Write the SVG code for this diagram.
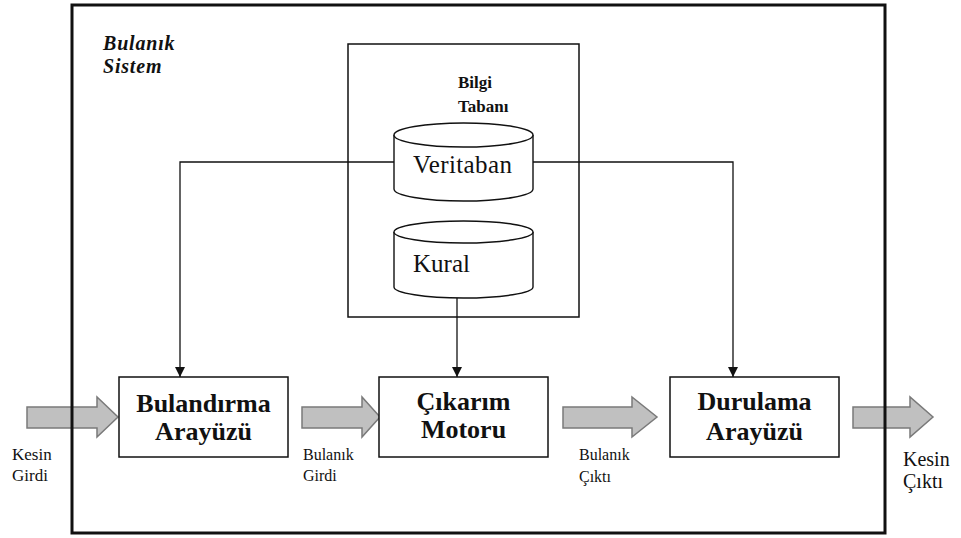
<svg xmlns="http://www.w3.org/2000/svg" width="961" height="538" viewBox="0 0 961 538">
  <defs>
    <style>
      text { font-family: "Liberation Serif", "Tinos", "DejaVu Serif", "Times New Roman", serif; fill: #111; }
      .node-title { font-size: 26px; font-weight: bold; text-anchor: middle; }
      .db-label { font-size: 25px; }
      .small { font-size: 16px; }
      .box { fill: #fff; stroke: #111; stroke-width: 1.5; }
      .frame { fill: none; stroke: #111; stroke-width: 3; }
      .kb { fill: none; stroke: #111; stroke-width: 1.5; }
      .cyl { fill: #fff; stroke: #111; stroke-width: 1.4; }
      .link { fill: none; stroke: #111; stroke-width: 1.3; }
      .flow { fill: #c0c0c0; stroke: #7a7a7a; stroke-width: 1.5; stroke-linejoin: miter; }
      .caption { font-size: 20px; font-weight: bold; font-style: italic; letter-spacing: 0.8px; }
    </style>
    <marker id="tip" viewBox="0 0 10 10" refX="10" refY="5" markerWidth="10" markerHeight="10" markerUnits="userSpaceOnUse" orient="auto">
      <path d="M0,0 L10,5 L0,10 Z" fill="#111"/>
    </marker>
  </defs>

  <rect width="961" height="538" fill="#fff"/>

  <!-- wide grey flow arrows -->
  <g id="flows">
    <polygon class="flow" points="27,407 97,407 97,397 118,417 97,437 97,428 27,428"/>
    <polygon class="flow" points="302,407 362,407 362,397 380,417 362,437 362,428 302,428"/>
    <polygon class="flow" points="563,407 632,407 632,397 657,417 632,437 632,428 563,428"/>
    <polygon class="flow" points="853,407 910,407 910,397 933,417 910,437 910,428 853,428"/>
  </g>

  <!-- system boundary -->
  <g id="fuzzy-system">
    <rect class="frame" x="72" y="5" width="813" height="528"/>
    <text class="caption" x="103" y="50">Bulanık</text>
    <text class="caption" x="103" y="73">Sistem</text>
  </g>

  <!-- knowledge base -->
  <g id="knowledge-base">
    <rect class="kb" x="348" y="44" width="231" height="273"/>
    <text x="458" y="88" style="font-size:17px;font-weight:bold">Bilgi</text>
    <text x="458" y="112" style="font-size:17px;font-weight:bold">Tabanı</text>
  </g>

  <!-- connectors -->
  <g id="connectors">
    <polyline class="link" points="394,162 180,162 180,377" marker-end="url(#tip)"/>
    <polyline class="link" points="533,162 733,162 733,377" marker-end="url(#tip)"/>
    <polyline class="link" points="457,298 457,377" marker-end="url(#tip)"/>
  </g>

  <g id="veritaban">
    <path class="cyl" d="M394,135 A69.5,12 0 0 1 533,135 L533,189 A69.5,12 0 0 1 394,189 Z"/>
    <path class="cyl" d="M394,135 A69.5,12 0 0 0 533,135" fill="none"/>
    <text class="db-label" x="413" y="173" letter-spacing="0.4">Veritaban</text>
  </g>

  <g id="kural">
    <path class="cyl" d="M394,232 A69.5,11 0 0 1 533,232 L533,287 A69.5,11 0 0 1 394,287 Z"/>
    <path class="cyl" d="M394,232 A69.5,11 0 0 0 533,232" fill="none"/>
    <text class="db-label" x="413" y="272">Kural</text>
  </g>

  <g id="bulandirma">
    <rect class="box" x="119" y="377" width="169" height="80"/>
    <text class="node-title" x="203.5" y="412">Bulandırma</text>
    <text class="node-title" x="203.5" y="440">Arayüzü</text>
  </g>

  <g id="cikarim">
    <rect class="box" x="379" y="377" width="169" height="80"/>
    <text class="node-title" x="463.5" y="410">Çıkarım</text>
    <text class="node-title" x="463.5" y="438">Motoru</text>
  </g>

  <g id="durulama">
    <rect class="box" x="670" y="377" width="169" height="80"/>
    <text class="node-title" x="754.5" y="410">Durulama</text>
    <text class="node-title" x="754.5" y="440">Arayüzü</text>
  </g>

  <!-- flow labels -->
  <g id="labels">
    <text x="12" y="460" style="font-size:17px">Kesin</text>
    <text x="12" y="481" style="font-size:17px">Girdi</text>
    <text class="small" x="303" y="460">Bulanık</text>
    <text class="small" x="303" y="481">Girdi</text>
    <text class="small" x="579" y="460">Bulanık</text>
    <text class="small" x="579" y="482">Çıktı</text>
    <text x="903" y="466" style="font-size:20px">Kesin</text>
    <text x="903" y="488" style="font-size:20px">Çıktı</text>
  </g>
</svg>
